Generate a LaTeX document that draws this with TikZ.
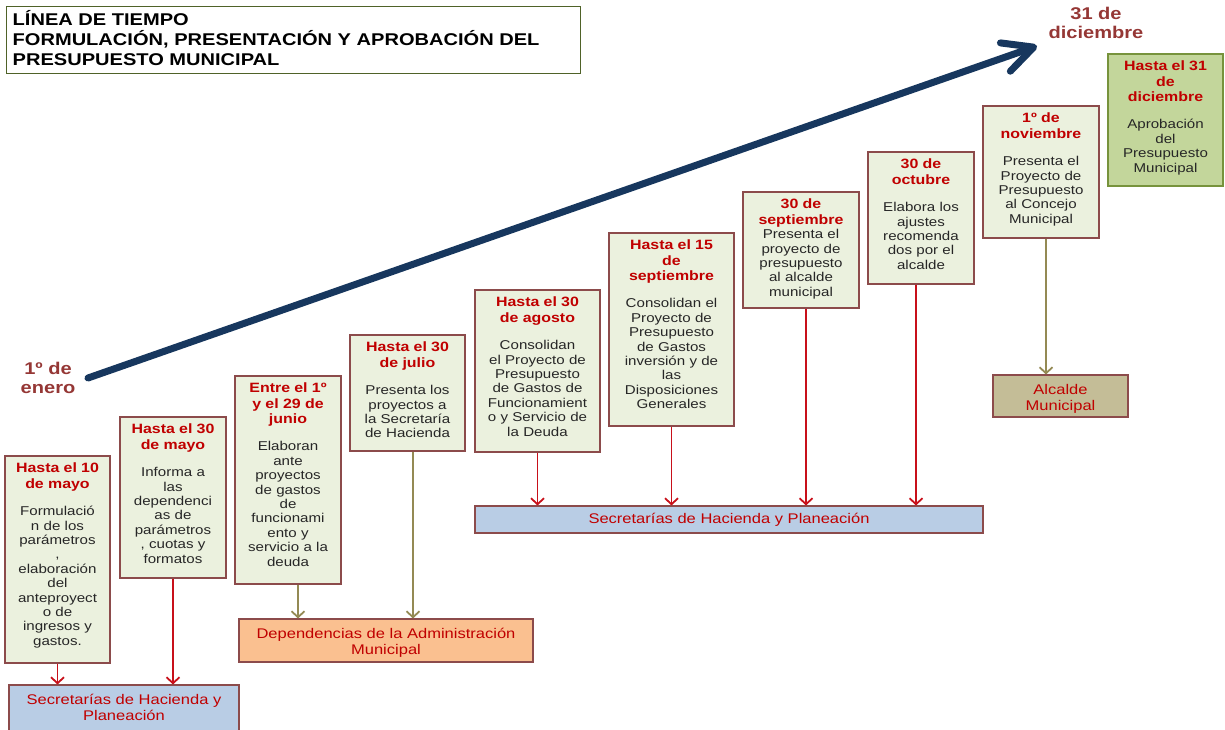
\documentclass[tikz,border=0pt]{standalone}
\usepackage{fontspec}
\setmainfont{Liberation Sans}[FakeStretch=1.18]
\usetikzlibrary{arrows.meta}
\definecolor{headred}{HTML}{C00000}
\definecolor{bodytxt}{HTML}{262626}
\definecolor{bord}{RGB}{140,75,75}
\definecolor{boxfill}{HTML}{EBF1DE}
\definecolor{greenfill}{HTML}{C3D69B}
\definecolor{greenbord}{HTML}{77933C}
\definecolor{bluefill}{HTML}{B9CDE5}
\definecolor{orangefill}{HTML}{FAC090}
\definecolor{khakifill}{HTML}{C4BD97}
\definecolor{labred}{HTML}{953735}
\definecolor{titlebord}{HTML}{4F6228}
\definecolor{arrred}{HTML}{C8101A}
\definecolor{arrkhaki}{HTML}{948A54}
\definecolor{navy}{HTML}{17375E}
\newcommand\hd{\fontsize{13.5}{14.4}\selectfont\bfseries\color{headred}}
\newcommand\bd{\fontsize{12.8}{14.4}\selectfont\mdseries\color{bodytxt}}
\newcommand\twolines[3]{\raisebox{-#1}[\height][\depth]{\begin{tabular}{@{}c@{}}#2\\#3\end{tabular}}}
\begin{document}
\begin{tikzpicture}[x=1pt,y=-1pt,
  box/.style={draw=bord, fill=boxfill, line width=1.1pt, inner sep=0pt},
  gbox/.style={draw=greenbord, fill=greenfill, line width=1.1pt, inner sep=0pt},
  txt/.style={anchor=north, text width=140pt, align=center, inner sep=0pt,
    font=\fontsize{12.8}{14.4}\selectfont},
  bottom/.style={draw=bord, line width=1.1pt, inner sep=0pt,
    font=\fontsize{14}{16}\selectfont, text=headred},
  rarrow/.style={draw=arrred, line width=1.8pt, -{Straight Barb[length=6pt,width=13pt]}},
  karrow/.style={draw=arrkhaki, line width=1.8pt, -{Straight Barb[length=6pt,width=13pt]}},
  bigarrow/.style={draw=navy, line width=7pt, line cap=round,
    -{Straight Barb[length=30pt,width=30pt,round]}},
  lab/.style={align=center, inner sep=0pt, text=labred,
    font=\fontsize{17}{19.5}\selectfont\bfseries}]
\useasboundingbox (0,0) rectangle (1225,729);

% title
\node[draw=titlebord, line width=1pt, minimum width=574pt, minimum height=67pt, inner sep=0pt] (title) at (293,39.5) {};
\node[anchor=north west, align=left, inner sep=0pt,
  font=\fontsize{17}{20}\selectfont\bfseries] (titlet) at ([xshift=7pt,yshift=-4.5pt]title.north west)
  {LÍNEA DE TIEMPO\\FORMULACIÓN, PRESENTACIÓN Y APROBACIÓN DEL\\PRESUPUESTO MUNICIPAL};

% big arrow
\coordinate (as) at (88,378);
\coordinate (ae) at (1037,46);
\draw[bigarrow] (as) -- (ae);
\node[lab] (enero) at (48,378) {1º de\\enero};
\node[lab] (dic) at (1096,23) {31 de\\diciembre};

% boxes
\node[box, minimum width=105pt, minimum height=207pt] (b1) at (57.5,559.5) {};
\node[box, minimum width=106pt, minimum height=161pt] (b2) at (173,497.5) {};
\node[box, minimum width=106pt, minimum height=208pt] (b3) at (288,480) {};
\node[box, minimum width=115pt, minimum height=116pt] (b4) at (407.5,393) {};
\node[box, minimum width=125pt, minimum height=162pt] (b5) at (537.5,371) {};
\node[box, minimum width=125pt, minimum height=193pt] (b6) at (671.5,329.5) {};
\node[box, minimum width=116pt, minimum height=116pt] (b7) at (801,250) {};
\node[box, minimum width=106pt, minimum height=132pt] (b8) at (921,218) {};
\node[box, minimum width=116pt, minimum height=132pt] (b9) at (1041,172) {};
\node[gbox, minimum width=115pt, minimum height=132pt] (b10) at (1165.5,120) {};

\node[txt] (b1t) at ([yshift=-7.5pt]b1.north)
  {\hd Hasta el 10\\[0.9pt]de mayo\\[13pt]\bd Formulació\\n de los\\parámetros\\,\\elaboración\\del\\anteproyect\\o de\\ingresos y\\gastos.};
\node[txt] (b2t) at ([yshift=-7.5pt]b2.north)
  {\hd Hasta el 30\\[0.9pt]de mayo\\[13pt]\bd Informa a\\las\\dependenci\\as de\\parámetros\\, cuotas y\\formatos};
\node[txt] (b3t) at ([yshift=-7.5pt]b3.north)
  {\hd Entre el 1º\\[0.9pt]y el 29 de\\[0.9pt]junio\\[13pt]\bd Elaboran\\ante\\proyectos\\de gastos\\de\\funcionami\\ento y\\servicio a la\\deuda};
\node[txt] (b4t) at ([yshift=-7.5pt]b4.north)
  {\hd Hasta el 30\\[0.9pt]de julio\\[13pt]\bd Presenta los\\proyectos a\\la Secretaría\\de Hacienda};
\node[txt] (b5t) at ([yshift=-7.5pt]b5.north)
  {\hd Hasta el 30\\[0.9pt]de agosto\\[13pt]\bd Consolidan\\el Proyecto de\\Presupuesto\\de Gastos de\\Funcionamient\\o y Servicio de\\la Deuda};
\node[txt] (b6t) at ([yshift=-7.5pt]b6.north)
  {\hd Hasta el 15\\[0.9pt]de\\[0.9pt]septiembre\\[13pt]\bd Consolidan el\\Proyecto de\\Presupuesto\\de Gastos\\inversión y de\\las\\Disposiciones\\Generales};
\node[txt] (b7t) at ([yshift=-7.5pt]b7.north)
  {\hd 30 de\\[0.9pt]septiembre\\\bd Presenta el\\proyecto de\\presupuesto\\al alcalde\\municipal};
\node[txt] (b8t) at ([yshift=-7.5pt]b8.north)
  {\hd 30 de\\[0.9pt]octubre\\[13pt]\bd Elabora los\\ajustes\\recomenda\\dos por el\\alcalde};
\node[txt] (b9t) at ([yshift=-7.5pt]b9.north)
  {\hd 1º de\\[0.9pt]noviembre\\[13pt]\bd Presenta el\\Proyecto de\\Presupuesto\\al Concejo\\Municipal};
\node[txt] (b10t) at ([yshift=-7.5pt]b10.north)
  {\hd Hasta el 31\\[0.9pt]de\\[0.9pt]diciembre\\[13pt]\bd Aprobación\\del\\Presupuesto\\Municipal};

% bottom boxes
\node[bottom, fill=bluefill, minimum width=230pt, minimum height=46pt] (sec1) at (124,708) {\twolines{0.8pt}{Secretarías de Hacienda y}{Planeación}};
\node[bottom, fill=orangefill, minimum width=294pt, minimum height=43pt] (dep) at (386,640.5) {\twolines{2.8pt}{Dependencias de la Administración}{Municipal}};
\node[bottom, fill=bluefill, minimum width=508pt, minimum height=27pt] (sec2) at (729,519.5) {Secretarías de Hacienda y Planeación};
\node[bottom, fill=khakifill, minimum width=135pt, minimum height=42pt] (alc) at (1060.5,396) {\twolines{2.8pt}{Alcalde}{Municipal}};

% connectors
\draw[rarrow] (b1.south) -- (b1.south |- sec1.north);
\draw[rarrow] (b2.south) -- (b2.south |- sec1.north);
\draw[karrow] ([xshift=10pt]b3.south) -- ([xshift=10pt]b3.south |- dep.north);
\draw[karrow] ([xshift=5.5pt]b4.south) -- ([xshift=5.5pt]b4.south |- dep.north);
\draw[rarrow] (b5.south) -- (b5.south |- sec2.north);
\draw[rarrow] (b6.south) -- (b6.south |- sec2.north);
\draw[rarrow] ([xshift=5pt]b7.south) -- ([xshift=5pt]b7.south |- sec2.north);
\draw[rarrow] ([xshift=-5pt]b8.south) -- ([xshift=-5pt]b8.south |- sec2.north);
\draw[karrow] ([xshift=5pt]b9.south) -- ([xshift=5pt]b9.south |- alc.north);
\end{tikzpicture}
\end{document}
